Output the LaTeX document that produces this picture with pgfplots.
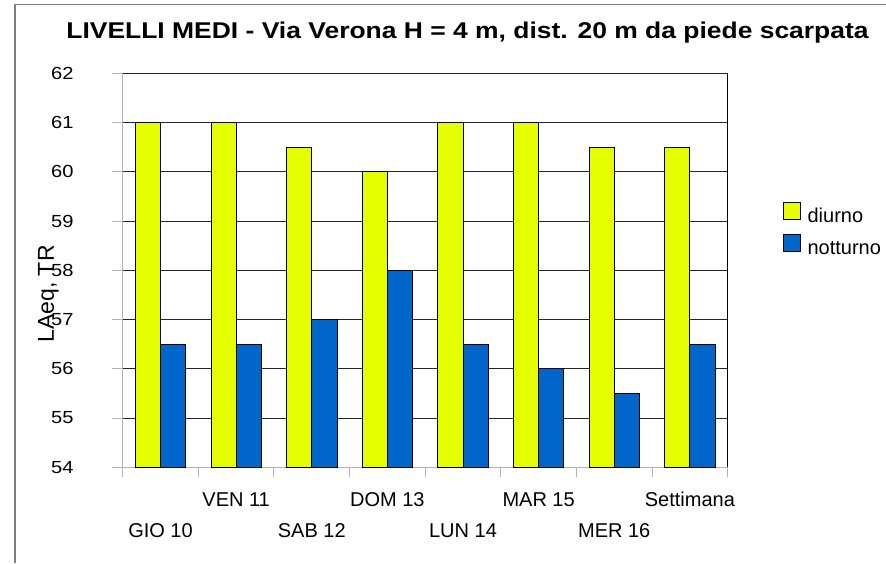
\documentclass[border=0pt]{standalone}
\usepackage{pgfplots}
\pgfplotsset{compat=1.18}
\usepackage{fontspec}
\setmainfont{Liberation Sans}
\newfontfamily\titlefont[FakeStretch=1.16]{Liberation Sans}
\newfontfamily\tickfont[FakeStretch=1.15]{Liberation Sans}
\definecolor{cdiurno}{RGB}{230,255,0}
\definecolor{cnotturno}{RGB}{0,102,204}
\definecolor{axgray}{RGB}{179,179,179}
\begin{document}
\begin{tikzpicture}[x=1pt,y=1pt]
\useasboundingbox (0,0) rectangle (886,563);
\fill[white] (0,0) rectangle (886,563);
\draw[gray, line width=1.5pt] (15,0) -- (15,558.5) -- (886,558.5);
\node[font=\titlefont\bfseries\fontsize{22.8}{27}\selectfont, anchor=base] at (467.5,524) {LIVELLI MEDI - Via Verona H = 4 m, dist. 20 m da piede scarpata};
\begin{axis}[
  name=ax,
  at={(122.7pt,95.7pt)}, anchor=south west,
  scale only axis, width=605pt, height=394pt,
  xmin=0, xmax=8, ymin=54, ymax=62,
  ybar=0pt, bar width=25.2pt,
  axis lines*=left,
  axis line style={axgray, line width=1pt},
  ytick={54,55,...,62},
  ymajorgrids, major grid style={black!85, line width=0.8pt},
  tick align=outside,
  major tick length=11pt, minor tick length=10pt,
  y tick style={axgray, line width=1pt},
  major x tick style={draw=none},
  minor x tick style={axgray, line width=1pt},
  xtick={0.5,2.5,4.5,6.5},
  xticklabels={GIO 10, SAB 12, LUN 14, MER 16},
  extra x ticks={1.5,3.5,5.5,7.5},
  extra x tick labels={VEN 11, DOM 13, MAR 15, Settimana},
  extra x tick style={major x tick style={draw=none}, xticklabel style={yshift=31pt}},
  minor xtick={0,1,2,3,4,5,6,7,8},
  xticklabel style={font=\fontsize{20}{24}\selectfont, anchor=base, yshift=-58.9pt},
  yticklabel style={font=\tickfont\fontsize{17.5}{21}\selectfont, anchor=east, inner sep=0pt, xshift=-38pt},
  /pgf/number format/assume math mode=true,
  ylabel={LAeq, TR},
  ylabel style={font=\fontsize{23}{27}\selectfont, at={(rel axis cs:-0.123,0.44)}, anchor=center},
  legend style={at={(rel axis cs:1.0914,0.674)}, anchor=north west, draw=none, fill=none,
    font=\fontsize{20}{24}\selectfont, row sep=7pt, inner sep=0pt,
    nodes={inner sep=0pt, text height=15pt, text depth=5pt}},
  legend cell align=left,
]
\addplot[fill=cdiurno, draw=black, line width=0.8pt,
  legend image code/.code={\draw[fill=cdiurno, draw=black, line width=0.8pt] (0pt,-1.6pt) rectangle (16.6pt,15pt); \path (23.6pt,0pt);}]
  coordinates {(0.5,61) (1.5,61) (2.5,60.5) (3.5,60) (4.5,61) (5.5,61) (6.5,60.5) (7.5,60.5)};
\addplot[fill=cnotturno, draw=black, line width=0.8pt,
  legend image code/.code={\draw[fill=cnotturno, draw=black, line width=0.8pt] (0pt,-1.6pt) rectangle (16.6pt,15pt); \path (23.6pt,0pt);}]
  coordinates {(0.5,56.5) (1.5,56.5) (2.5,57) (3.5,58) (4.5,56.5) (5.5,56) (6.5,55.5) (7.5,56.5)};
\legend{diurno, notturno}
\end{axis}
\draw[black, line width=0.8pt] (ax.south east) -- (ax.north east);
\end{tikzpicture}
\end{document}
